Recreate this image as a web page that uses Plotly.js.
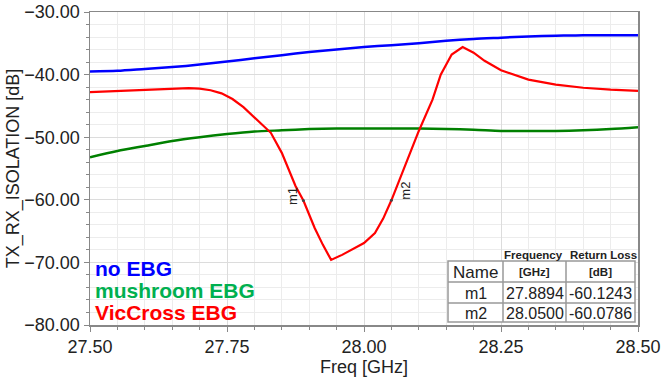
<!DOCTYPE html>
<html>
<head>
<meta charset="utf-8">
<script src="https://cdn.plot.ly/plotly-3.0.1.min.js"></script>
<style>html,body{margin:0;padding:0;background:#fff;}#chart{width:661px;height:377px;}</style>
</head>
<body>
<div id="chart"></div>
<script>
// ---- data ----
var freqBlue = [27.50,27.55,27.60,27.65,27.70,27.75,27.80,27.85,27.90,27.95,28.00,28.05,28.10,28.15,28.20,28.25,28.30,28.35,28.40,28.45,28.50];
var noEBG    = [-39.5,-39.4,-39.1,-38.8,-38.4,-37.9,-37.4,-36.9,-36.4,-36.0,-35.6,-35.3,-35.0,-34.6,-34.3,-34.1,-33.9,-33.8,-33.7,-33.7,-33.7];
var freqGreen = [27.50,27.55,27.60,27.65,27.70,27.75,27.80,27.85,27.90,27.95,28.00,28.05,28.10,28.15,28.20,28.25,28.30,28.35,28.40,28.45,28.50];
var mushroomEBG = [-53.2,-52.2,-51.4,-50.6,-50.0,-49.5,-49.1,-48.9,-48.7,-48.6,-48.6,-48.6,-48.6,-48.7,-48.8,-49.0,-49.0,-49.0,-48.9,-48.7,-48.4];
var freqRed = [27.50,27.55,27.60,27.65,27.68,27.70,27.72,27.74,27.76,27.78,27.80,27.83,27.85,27.875,27.8894,27.91,27.925,27.94,27.96,27.98,28.00,28.02,28.035,28.05,28.075,28.10,28.125,28.14,28.16,28.18,28.20,28.22,28.25,28.30,28.35,28.40,28.45,28.50];
var vicCrossEBG = [-42.8,-42.6,-42.4,-42.2,-42.15,-42.25,-42.5,-43.0,-43.9,-45.2,-46.8,-49.3,-52.5,-57.8,-60.1243,-64.5,-67.2,-69.6,-68.8,-67.9,-66.9,-65.3,-63.0,-60.0786,-54.5,-49.0,-44.0,-40.0,-36.8,-35.6,-36.5,-37.8,-39.3,-40.8,-41.6,-42.1,-42.4,-42.6];
var markerNames = ["m1","m2"];
var markerFreq  = [27.8894, 28.0500];
var markerVal   = [-60.1243, -60.0786];
var legendNames = ["no EBG","mushroom EBG","VicCross EBG"];
var xTicks = [27.50,27.75,28.00,28.25,28.50];

// ---- chart ----
var traces = [
  {x: freqBlue, y: noEBG, mode:'lines', line:{color:'#0000FF', width:2.5, shape:'spline', smoothing:0.8}, name: legendNames[0]},
  {x: freqGreen, y: mushroomEBG, mode:'lines', line:{color:'#008000', width:2.5, shape:'spline', smoothing:0.8}, name: legendNames[1]},
  {x: freqRed, y: vicCrossEBG, mode:'lines', line:{color:'#FF0000', width:2.2}, name: legendNames[2]},
  {x: markerFreq, y: markerVal, mode:'markers', marker:{color:'#444', size:3}, name:'markers'}
];

function px(p){ return (p-90)/548; }
function py(p){ return (325-p)/313; }

var ann = [];
var legendColors = ['#0000FF','#00B050','#FF0000'];
var legendY = [268, 290, 312];
for (var i=0;i<legendNames.length;i++){
  ann.push({xref:'paper', yref:'paper', x:px(94), y:py(legendY[i]), xanchor:'left', yanchor:'middle', borderpad:0,
    text:'<b>'+legendNames[i]+'</b>', showarrow:false, font:{family:'Liberation Sans, Arial', size:21, color:legendColors[i]}});
}
// marker labels
var mShiftX = [-11, 14], mShiftY = [5, 10];
for (var j=0;j<markerNames.length;j++){
  ann.push({xref:'x', yref:'y', x:markerFreq[j], y:markerVal[j], text:markerNames[j], showarrow:false,
    textangle:-90, xshift:mShiftX[j], yshift:mShiftY[j], font:{family:'Liberation Sans, Arial', size:13, color:'#222'}});
}
// table texts
var colX = [px(475.5), px(534.5), px(600.5)];
var txtFont = {family:'Liberation Sans, Arial', size:16, color:'#222'};
var bFont = {family:'Liberation Sans, Arial', size:11.5, color:'#222'};
ann.push({xref:'paper', yref:'paper', x:px(533), y:py(255), text:'<b>Frequency</b>', showarrow:false, font:bFont, xanchor:'center', yanchor:'middle'});
ann.push({xref:'paper', yref:'paper', x:px(603), y:py(255), text:'<b>Return Loss</b>', showarrow:false, font:bFont, xanchor:'center', yanchor:'middle'});
ann.push({xref:'paper', yref:'paper', x:colX[0], y:py(272), text:'Name', showarrow:false, font:{family:'Liberation Sans, Arial', size:17, color:'#222'}, xanchor:'center', yanchor:'middle'});
ann.push({xref:'paper', yref:'paper', x:colX[1], y:py(272), text:'<b>[GHz]</b>', showarrow:false, font:bFont, xanchor:'center', yanchor:'middle'});
ann.push({xref:'paper', yref:'paper', x:colX[2], y:py(272), text:'<b>[dB]</b>', showarrow:false, font:bFont, xanchor:'center', yanchor:'middle'});
var rowY = [293, 313];
for (var k=0;k<markerNames.length;k++){
  ann.push({xref:'paper', yref:'paper', x:colX[0], y:py(rowY[k]), text:markerNames[k], showarrow:false, font:txtFont, xanchor:'center', yanchor:'middle'});
  ann.push({xref:'paper', yref:'paper', x:colX[1], y:py(rowY[k]), text:markerFreq[k].toFixed(4), showarrow:false, font:txtFont, xanchor:'center', yanchor:'middle'});
  ann.push({xref:'paper', yref:'paper', x:colX[2], y:py(rowY[k]), text:markerVal[k].toFixed(4), showarrow:false, font:txtFont, xanchor:'center', yanchor:'middle'});
}

var lc = '#999';
var shapes = [
  {type:'rect', xref:'paper', yref:'paper', x0:px(448), x1:px(635), y0:py(322), y1:py(261), fillcolor:'#fff', line:{color:lc, width:1.5}, layer:'above'},
  {type:'line', xref:'paper', yref:'paper', x0:px(448), x1:px(635), y0:py(282), y1:py(282), line:{color:lc, width:1.5}},
  {type:'line', xref:'paper', yref:'paper', x0:px(448), x1:px(635), y0:py(303), y1:py(303), line:{color:lc, width:1.5}},
  {type:'line', xref:'paper', yref:'paper', x0:px(503), x1:px(503), y0:py(322), y1:py(261), line:{color:lc, width:1.5}},
  {type:'line', xref:'paper', yref:'paper', x0:px(566), x1:px(566), y0:py(322), y1:py(261), line:{color:lc, width:1.5}}
];

var layout = {
  width:661, height:377,
  margin:{l:90, r:23, t:12, b:52},
  paper_bgcolor:'#fff', plot_bgcolor:'#fff',
  showlegend:false,
  font:{family:'Liberation Sans, Arial', color:'#222'},
  xaxis:{
    range:[27.5,28.5], tickvals:xTicks, ticktext:xTicks.map(function(v){return v.toFixed(2);}),
    showgrid:true, gridcolor:'#dcdcdc', gridwidth:1, zeroline:false,
    showline:true, linecolor:'#888', linewidth:1.5, mirror:true,
    ticks:'outside', ticklen:5, tickcolor:'#888',
    minor:{dtick:0.05, tick0:27.5, showgrid:true, gridcolor:'#ececec', ticks:'outside', ticklen:3, tickcolor:'#888'},
    tickfont:{size:18, color:'#222'},
    title:{text:'Freq [GHz]', font:{size:18, color:'#222'}, standoff:4}
  },
  yaxis:{
    range:[-80,-30], dtick:10, tick0:-80, tickformat:'.2f',
    showgrid:true, gridcolor:'#dcdcdc', gridwidth:1, zeroline:false,
    showline:true, linecolor:'#888', linewidth:1.5, mirror:true,
    ticks:'outside', ticklen:5, tickcolor:'#888',
    minor:{dtick:2, showgrid:true, gridcolor:'#ececec', ticks:'outside', ticklen:3, tickcolor:'#888'},
    tickfont:{size:18, color:'#222'},
    title:{text:'TX_RX_ISOLATION [dB]', font:{size:18, color:'#222'}, standoff:0}
  },
  annotations: ann,
  shapes: shapes
};

Plotly.newPlot('chart', traces, layout, {displayModeBar:false, staticPlot:true});
</script>
</body>
</html>
